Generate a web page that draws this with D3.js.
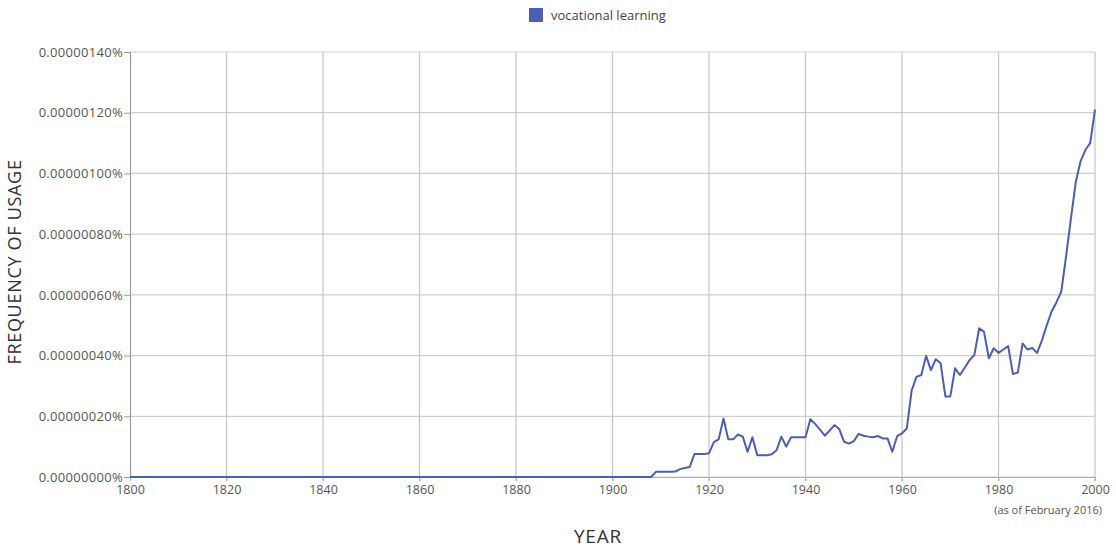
<!DOCTYPE html>
<html>
<head>
<meta charset="utf-8">
<script src="https://cdn.jsdelivr.net/npm/d3@7"></script>
<style>
  html, body { margin: 0; padding: 0; background: #fff; }
  svg { display: block; font-family: "Open Sans", "Liberation Sans", sans-serif; }
</style>
</head>
<body>
<svg id="chart" width="1116" height="550"></svg>
<script>
// ---- data (values in units of 0.00000001 %) ----
const seriesName = "vocational learning";
const years = d3.range(1800, 2001);
const earlyYears = d3.range(1800, 1909); // all zero
const lateValues = [
  1.7, 1.7, 1.7, 1.7, 1.8, 2.6, 3.0, 3.3, 7.6, 7.6,          // 1909-1918
  7.6, 7.8, 11.5, 12.4, 19.3, 12.4, 12.4, 14.0, 13.3, 8.3,   // 1919-1928
  13.1, 7.2, 7.2, 7.2, 7.5, 8.8, 13.3, 10.0, 13.1, 13.1,     // 1929-1938
  13.1, 13.1, 19.0, 17.5, 15.6, 13.6, 15.3, 17.1, 15.8, 11.6,// 1939-1948
  11.0, 11.8, 14.2, 13.6, 13.3, 13.1, 13.5, 12.7, 12.7, 8.3, // 1949-1958
  13.5, 14.4, 16.0, 28.5, 33.0, 33.6, 39.9, 35.2, 38.8, 37.5,// 1959-1968
  26.5, 26.5, 35.8, 33.6, 36.0, 38.5, 40.2, 49.0, 47.8, 39.1,// 1969-1978
  42.4, 40.9, 42.0, 43.1, 33.9, 34.4, 44.0, 42.0, 42.5, 40.9,// 1979-1988
  45.0, 50.0, 54.5, 57.5, 61.0, 72.6, 85.0, 97.0, 104.0, 107.7, // 1989-1998
  110.0, 121.0                                               // 1999-2000
];
const values = earlyYears.map(() => 0).concat(lateValues);
const xTicks = [1800, 1820, 1840, 1860, 1880, 1900, 1920, 1940, 1960, 1980, 2000];
const yTicks = [0, 20, 40, 60, 80, 100, 120, 140];
const yTickLabels = ["0.00000000%", "0.00000020%", "0.00000040%", "0.00000060%",
                     "0.00000080%", "0.00000100%", "0.00000120%", "0.00000140%"];
const xTitle = "YEAR";
const yTitle = "FREQUENCY OF USAGE";
const note = "(as of February 2016)";

// ---- layout ----
const svg = d3.select("#chart");
const plotLeft = 130, plotRight = 1095, plotTop = 52, plotBottom = 477;
const lineColor = "#4a5fb2";

const x = d3.scaleLinear().domain([1800, 2000]).range([plotLeft, plotRight]);
const y = d3.scaleLinear().domain([0, 140]).range([plotBottom, plotTop]);

// grid
svg.append("g").selectAll("line").data(yTicks).join("line")
  .attr("x1", plotLeft).attr("x2", plotRight)
  .attr("y1", d => y(d)).attr("y2", d => y(d))
  .attr("stroke", "#cfcfcf").attr("stroke-width", 1.2);
svg.append("g").selectAll("line").data(xTicks.slice(1)).join("line")
  .attr("x1", d => x(d)).attr("x2", d => x(d))
  .attr("y1", plotTop).attr("y2", plotBottom + 4)
  .attr("stroke", "#c4c4c4").attr("stroke-width", 1.2);

// y axis
const yAxis = d3.axisLeft(y).tickValues(yTicks)
  .tickFormat((d, i) => yTickLabels[i]).tickSize(6).tickPadding(1);
const gy = svg.append("g").attr("transform", `translate(${plotLeft},0)`).call(yAxis);
gy.select(".domain").attr("stroke", "#9a9a9a").attr("stroke-width", 1.2);
gy.selectAll(".tick line").attr("stroke", "#9a9a9a");
gy.selectAll(".tick text").attr("fill", "#555").style("font-size", "13px")
  .style("letter-spacing", "0.3px")
  .style("font-family", "'Open Sans', sans-serif");

// x axis
const xAxis = d3.axisBottom(x).tickValues(xTicks).tickFormat(d3.format("d"))
  .tickSize(4).tickPadding(4);
const gx = svg.append("g").attr("transform", `translate(0,${plotBottom})`).call(xAxis);
gx.select(".domain").attr("stroke", "#b0b0b0").attr("stroke-width", 1.2);
gx.selectAll(".tick line").attr("stroke", "#b0b0b0");
gx.selectAll(".tick text").attr("fill", "#555").style("font-size", "12.5px")
  .style("font-family", "'Open Sans', sans-serif");

// line
const line = d3.line().x((d, i) => x(years[i])).y(d => y(d));
svg.append("path").datum(values)
  .attr("d", line).attr("fill", "none")
  .attr("stroke", lineColor).attr("stroke-width", 2)
  .attr("stroke-linejoin", "round");

// legend
svg.append("rect").attr("x", 529).attr("y", 8).attr("width", 14).attr("height", 14)
  .attr("fill", lineColor);
svg.append("text").attr("x", 551).attr("y", 19.5).text(seriesName)
  .attr("fill", "#444").style("font-size", "13px");

// titles
svg.append("text").attr("x", 598).attr("y", 543).attr("text-anchor", "middle")
  .text(xTitle).attr("fill", "#333").style("font-size", "19px")
  .style("letter-spacing", "0.8px");
svg.append("text").attr("transform", "translate(21,262) rotate(-90)")
  .attr("text-anchor", "middle").text(yTitle).attr("fill", "#333")
  .style("font-size", "18px").style("letter-spacing", "0.7px");
svg.append("text").attr("x", 1102).attr("y", 514).attr("text-anchor", "end")
  .text(note).attr("fill", "#555").style("font-size", "11px");
</script>
</body>
</html>
